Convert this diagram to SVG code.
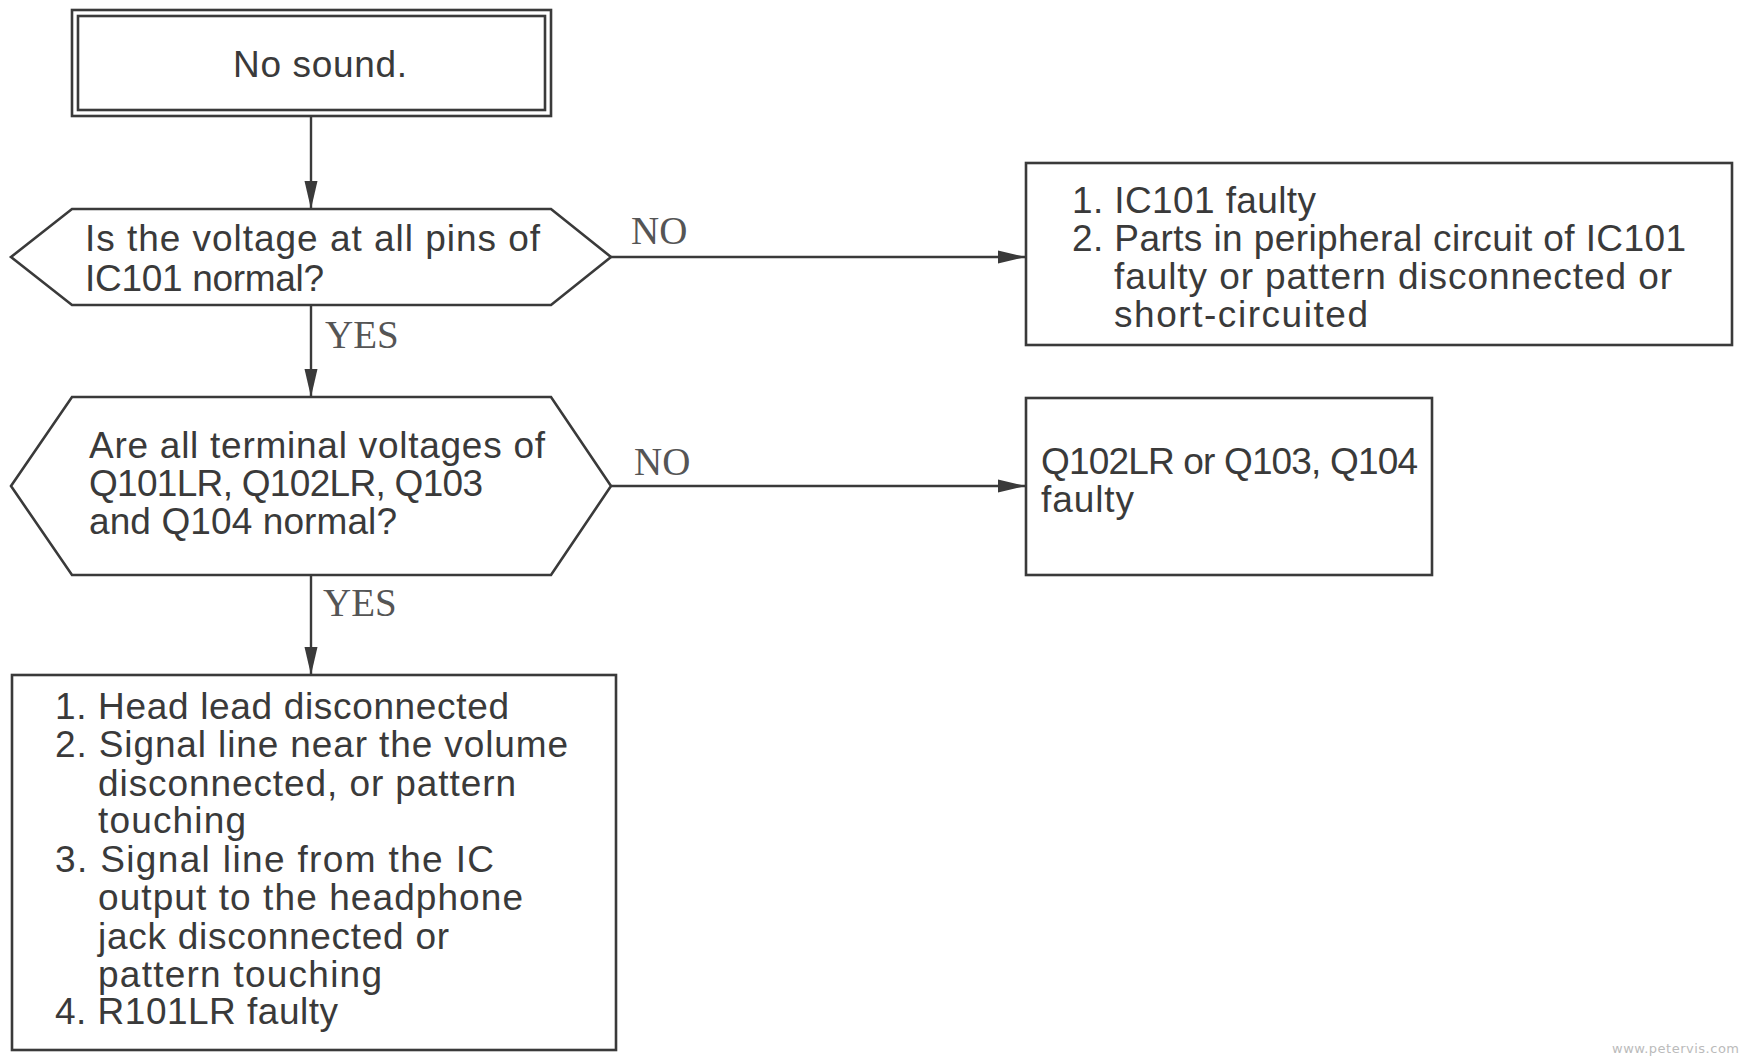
<svg xmlns="http://www.w3.org/2000/svg" width="1740" height="1059" viewBox="0 0 1740 1059">
<style>
.shape{fill:#fff;stroke:#3a3a3a;stroke-width:2.6}
.t{font-family:"Liberation Sans",Arial,sans-serif;font-size:37px;fill:#3a3a3a}
.lbl{font-family:"Liberation Serif","Times New Roman",serif;font-size:39px;fill:#555}
.wm{font-family:"DejaVu Sans",sans-serif;font-size:13px;fill:#bbb;letter-spacing:0.5px}
.conn{fill:none;stroke:#3a3a3a;stroke-width:2.4}
</style>
<defs>
<marker id="arr" markerUnits="userSpaceOnUse" markerWidth="30" markerHeight="14" refX="28" refY="7" orient="auto">
<path d="M0,0.5 L28,7 L0,13.5 Z" fill="#3a3a3a"/>
</marker>
</defs>
<rect width="1740" height="1059" fill="#fff"/>

<g id="connectors">
<line class="conn" x1="311" y1="116" x2="311" y2="209" marker-end="url(#arr)"/>
<line class="conn" x1="611" y1="257" x2="1026" y2="257" marker-end="url(#arr)"/>
<line class="conn" x1="311" y1="305" x2="311" y2="397" marker-end="url(#arr)"/>
<line class="conn" x1="611" y1="486" x2="1026" y2="486" marker-end="url(#arr)"/>
<line class="conn" x1="311" y1="575" x2="311" y2="675" marker-end="url(#arr)"/>
<text class="lbl" x="631" y="244">NO</text>
<text class="lbl" x="325" y="348">YES</text>
<text class="lbl" x="634" y="475">NO</text>
<text class="lbl" x="323" y="616">YES</text>
</g>

<g id="start">
<rect class="shape" x="72" y="10" width="479" height="106"/>
<rect class="shape" x="78" y="16" width="467" height="94"/>
<text class="t" x="233" y="77" textLength="174" lengthAdjust="spacing">No sound.</text>
</g>

<g id="q1">
<polygon class="shape" points="11,257 72,209 551,209 611,257 551,305 72,305"/>
<text class="t" x="85" y="251" textLength="455" lengthAdjust="spacing">Is the voltage at all pins of</text>
<text class="t" x="85" y="291" textLength="239" lengthAdjust="spacing">IC101 normal?</text>
</g>

<g id="r1">
<rect class="shape" x="1026" y="163" width="706" height="182"/>
<text class="t" x="1072" y="213" textLength="244" lengthAdjust="spacing">1. IC101 faulty</text>
<text class="t" x="1072" y="251" textLength="614" lengthAdjust="spacing">2. Parts in peripheral circuit of IC101</text>
<text class="t" x="1114" y="289" textLength="558" lengthAdjust="spacing">faulty or pattern disconnected or</text>
<text class="t" x="1114" y="327" textLength="254" lengthAdjust="spacing">short-circuited</text>
</g>

<g id="q2">
<polygon class="shape" points="11,486 72,397 551,397 611,486 551,575 72,575"/>
<text class="t" x="89" y="458" textLength="456" lengthAdjust="spacing">Are all terminal voltages of</text>
<text class="t" x="89" y="496" textLength="394" lengthAdjust="spacing">Q101LR, Q102LR, Q103</text>
<text class="t" x="89" y="534" textLength="308" lengthAdjust="spacing">and Q104 normal?</text>
</g>

<g id="r2">
<rect class="shape" x="1026" y="398" width="406" height="177"/>
<text class="t" x="1041" y="474" textLength="377" lengthAdjust="spacing">Q102LR or Q103, Q104</text>
<text class="t" x="1041" y="512" textLength="93" lengthAdjust="spacing">faulty</text>
</g>

<g id="r3">
<rect class="shape" x="12" y="675" width="604" height="375"/>
<text class="t" x="55" y="719" textLength="454" lengthAdjust="spacing">1. Head lead disconnected</text>
<text class="t" x="55" y="757" textLength="513" lengthAdjust="spacing">2. Signal line near the volume</text>
<text class="t" x="98" y="796" textLength="418" lengthAdjust="spacing">disconnected, or pattern</text>
<text class="t" x="98" y="833" textLength="148" lengthAdjust="spacing">touching</text>
<text class="t" x="55" y="872" textLength="439" lengthAdjust="spacing">3. Signal line from the IC</text>
<text class="t" x="98" y="910" textLength="425" lengthAdjust="spacing">output to the headphone</text>
<text class="t" x="98" y="949" textLength="351" lengthAdjust="spacing">jack disconnected or</text>
<text class="t" x="98" y="987" textLength="284" lengthAdjust="spacing">pattern touching</text>
<text class="t" x="55" y="1024" textLength="283" lengthAdjust="spacing">4. R101LR faulty</text>
</g>

<text class="wm" x="1612" y="1053">www.petervis.com</text>
</svg>
